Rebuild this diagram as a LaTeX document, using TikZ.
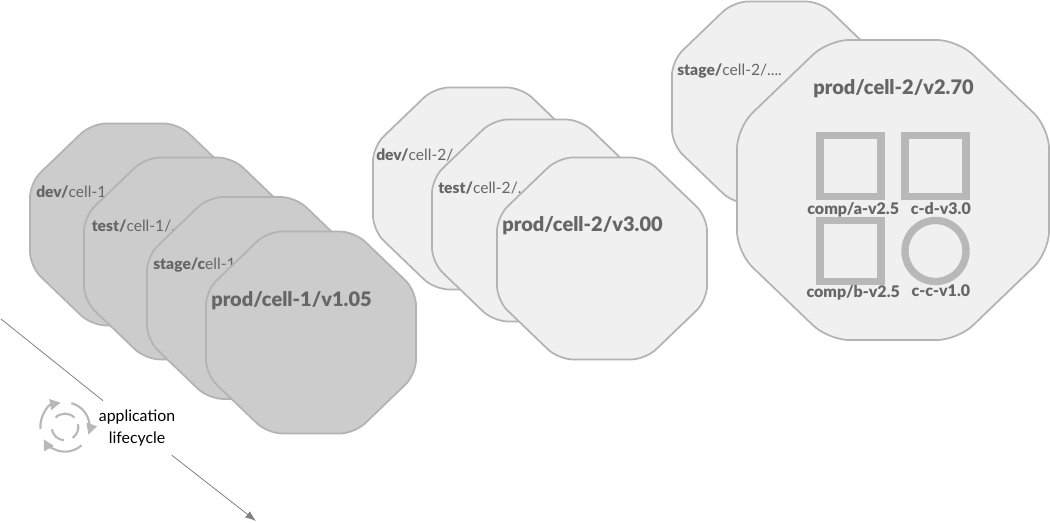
\documentclass[tikz,border=0pt]{standalone}
\usepackage{xcolor}
\usepackage{fontspec}
\setmainfont{Lato}[BoldFont={Lato Black}]
\usepackage{tikz}
\usetikzlibrary{shapes,arrows.meta,positioning}
\definecolor{cellgrey}{HTML}{CCCCCC}
\definecolor{celllight}{HTML}{F0F0F0}
\definecolor{celledge}{HTML}{B3B3B3}
\definecolor{celltext}{HTML}{666666}
\definecolor{compgrey}{HTML}{B8B8B8}
\definecolor{flowgrey}{HTML}{808080}
\tikzstyle{cell} = [regular polygon, regular polygon sides=8, draw=celledge,
    line width=1.3pt, outer sep=0pt, rounded corners=11pt, minimum size=164pt,
    xscale=1.04, transform shape]
\tikzstyle{cell_dark} = [cell, fill=cellgrey]
\tikzstyle{cell_light} = [cell, fill=celllight]
\tikzstyle{cell_large} = [cell, fill=celllight, minimum size=243.7pt,
    rounded corners=16pt]
\tikzstyle{tag} = [anchor=mid west, inner sep=0pt, text=celltext,
    font=\fontsize{11.7}{13}\selectfont]
\tikzstyle{tag_big} = [anchor=mid west, inner sep=0pt, text=celltext,
    font=\fontsize{15}{18}\selectfont\bfseries]
\tikzstyle{comp} = [rectangle, draw=compgrey, line width=5.5pt, minimum size=45.75pt,
    outer sep=0pt, inner sep=0pt]
\tikzstyle{comp_round} = [comp, circle]
\tikzstyle{comp_tag} = [inner sep=0pt, text=celltext,
    font=\fontsize{12}{13}\selectfont\bfseries]
\tikzstyle{line} = [draw=flowgrey, line width=0.6pt]
\tikzstyle{icon} = [draw=compgrey, line width=1.6pt]
\begin{document}
\begin{tikzpicture}[x=0.75pt, y=-0.75pt, node distance = 18pt]
    \useasboundingbox (0,0) rectangle (1050,523);
    % Place nodes
    \node at (135,224.5) [cell_dark] (dev1) {};
    \node at (36,194) [tag] (dev1tag) {\textbf{dev/}cell-1};
    \node at (189,258.5) [cell_dark] (test1) {};
    \node at (91.5,228) [tag] (test1tag) {\textbf{test/}cell-1/.};
    \node at (252,298) [cell_dark] (stage1) {};
    \node at (153,266.5) [tag] (stage1tag) {\textbf{stage/c}ell-1};
    \node at (311,332.5) [cell_dark] (prod1) {};
    \node at (211,303) [tag_big] (prod1tag) {prod/cell-1/v1.05};

    \node at (478,188.5) [cell_light] (dev2) {};
    \node at (376,157.5) [tag] (dev2tag) {\textbf{dev/}cell-2/};
    \node at (537,220.5) [cell_light] (test2) {};
    \node at (438,190) [tag] (test2tag) {\textbf{test/}cell-2/..};
    \node at (602,258.5) [cell_light] (prod2) {};
    \node at (502,228) [tag_big] (prod2tag) {prod/cell-2/v3.00};

    \node at (777,102.5) [cell_light] (stage3) {};
    \node at (677,72.5) [tag] (stage3tag) {\textbf{stage/}cell-2/....};
    \node at (893,190) [cell_large] (prod3) {};
    \node at (813,91) [tag_big] (prod3tag) {prod/cell-2/v2.70};

    \node at (850.5,166) [comp] (compa) {};
    \node [comp, right=of compa] (compd) {};
    \node [comp, below=of compa] (compb) {};
    \node [comp_round, below=of compd] (compc) {};
    \node [comp_tag, below=4.5pt of compa, xshift=2pt] (compatag) {comp/a-v2.5};
    \node [comp_tag, below=4.5pt of compd, xshift=4pt] (compdtag) {c-d-v3.0};
    \node [comp_tag, below=2.5pt of compb, xshift=2pt] (compbtag) {comp/b-v2.5};
    \node [comp_tag, below=2.5pt of compc, xshift=4pt] (compctag) {c-c-v1.0};

    \node at (137,428) [minimum width=60pt, minimum height=40.5pt, inner sep=0pt,
        align=center, font=\fontsize{11.9}{16.5}\selectfont] (lifecycle) {application\\lifecycle};
    \coordinate (start) at (1,319);
    \coordinate (finish) at (256,521);
    \coordinate (iconmid) at (65,427);
    % Draw edges
    \path [line] (start) -- (lifecycle);
    \path [line, -{Latex[length=8pt,width=6pt]}] (lifecycle) -- (finish);
    % Cycle icon
    \foreach \from/\to in {185/100, 75/-18, -48/-150}
        \draw [icon, -{Triangle[length=8pt,width=8pt]}] (iconmid) ++(\from:18.5pt) arc (\from:\to:18.5pt);
    \foreach \from/\to in {135/45, 12/-55, 190/265}
        \draw [icon] (iconmid) ++(\from:10pt) arc (\from:\to:10pt);
\end{tikzpicture}
\end{document}
